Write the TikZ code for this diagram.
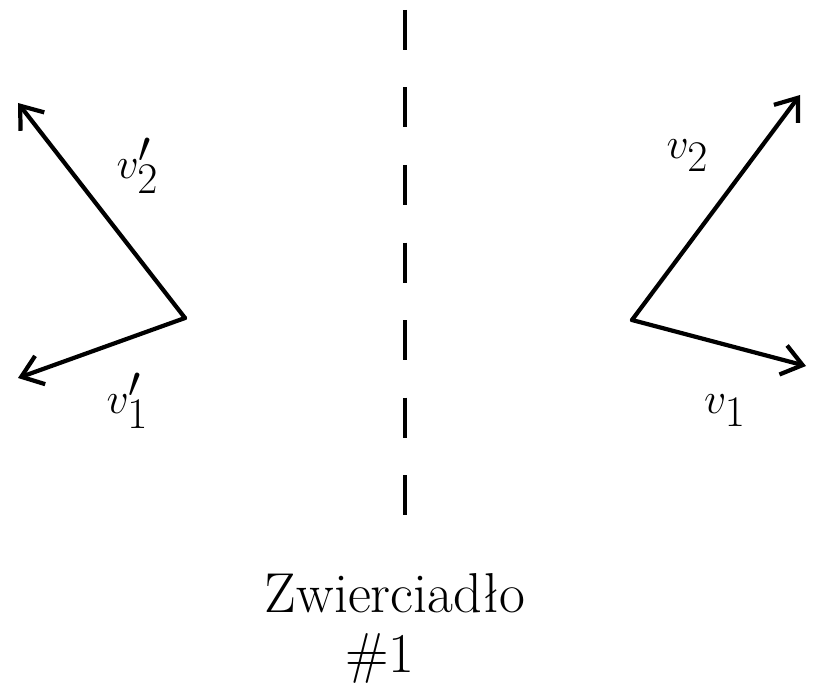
\documentclass[tikz,border=0pt]{standalone}
\usepackage{tikz}
\usetikzlibrary{arrows.meta}
\begin{document}
\begin{tikzpicture}[vec/.style={-{Straight Barb[length=4mm,width=6mm]},line width=2.4pt,line cap=round},
  mirror/.style={line width=2.4pt,dash pattern=on 0.8cm off 0.75cm},
  lbl/.style={font=\fontsize{40}{44}\selectfont},
  caption/.style={font=\fontsize{32}{36}\selectfont,inner sep=0pt}]
\useasboundingbox (0,0) rectangle (16.26,13.82);
\coordinate (mtop) at (8.1,13.62);
\coordinate (mbot) at (8.1,3.02);
\coordinate (lo) at (3.70,7.46);
\coordinate (ltwo) at (0.36,11.76);
\coordinate (lone) at (0.36,6.26);
\coordinate (ro) at (12.64,7.42);
\coordinate (rtwo) at (16.0,11.92);
\coordinate (rone) at (16.12,6.50);
\draw[mirror] (mtop) -- (mbot);
\draw[vec] (lo) -- (ltwo);
\draw[vec] (lo) -- (lone);
\draw[vec] (ro) -- (rtwo);
\draw[vec] (ro) -- (rone);
\node[lbl] (vtwop) at (2.75,10.5) {$v_2'$};
\node[lbl] (vonep) at (2.55,5.8) {$v_1'$};
\node[lbl] (vtwo) at (13.75,10.7) {$v_2$};
\node[lbl] (vone) at (14.5,5.6) {$v_1$};
\node[caption] (mname) at (7.9,1.95) {Zwierciadło};
\node[caption] (mnum) at (7.6,0.65) {\#1};
\end{tikzpicture}
\end{document}
